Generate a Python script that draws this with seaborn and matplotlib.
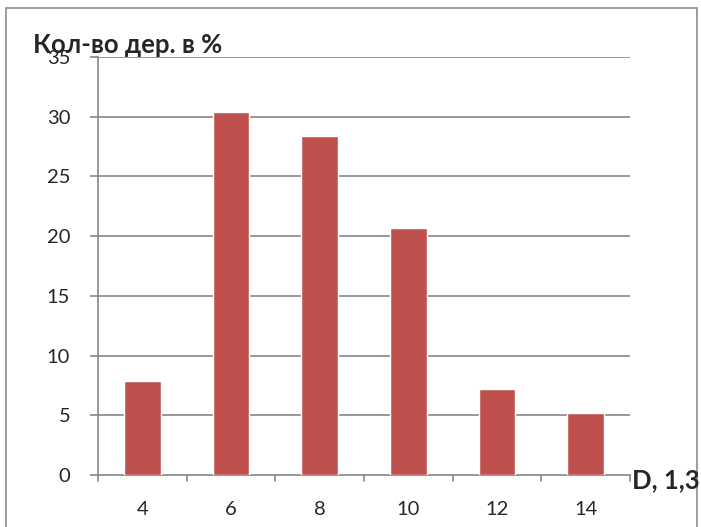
import matplotlib
matplotlib.use("Agg")
import matplotlib.pyplot as plt
import seaborn as sns
import pandas as pd
from matplotlib.patches import Rectangle

# Diameter classes (cm) and share of trees (%)
diameters = ["4", "6", "8", "10", "12", "14"]
share = [7.9, 30.4, 28.4, 20.7, 7.2, 5.2]
y_ticks = [0, 5, 10, 15, 20, 25, 30, 35]

df = pd.DataFrame({"D": diameters, "share": share})

sns.set_theme(style="white")
plt.rcParams["font.family"] = ["Lato", "DejaVu Sans"]

fig = plt.figure(figsize=(7.01, 5.27), dpi=100)
W, H = 701, 527
ax = fig.add_axes([98 / W, 1 - 475 / H, (630 - 98) / W, (475 - 57) / H])

sns.barplot(data=df, x="D", y="share", color="#C0504D", saturation=1,
            width=0.41, ax=ax, zorder=3)

grid_c = "#868686"
ax.set_ylim(0, 35)
ax.set_xlim(-0.5, len(diameters) - 0.5)
ax.set_yticks(y_ticks)
ax.set_yticklabels([str(v) for v in y_ticks], fontsize=14.5)
for v in y_ticks[1:]:
    ax.axhline(v, color=grid_c, lw=1.2, zorder=1)

# category boundary ticks on the x axis
ax.set_xticks(range(len(diameters)))
ax.set_xticklabels(diameters, fontsize=14.5)
ax.tick_params(axis="x", length=0, pad=19)
for b in [i + 0.5 for i in range(len(diameters) - 1)] + [-0.5, len(diameters) - 0.5]:
    ax.plot([b, b], [0, -0.5], color=grid_c, lw=1.2, clip_on=False,
            transform=ax.transData)
ax.tick_params(axis="y", length=6, width=1.2, color=grid_c, pad=14, left=True)

for s in ["top", "right"]:
    ax.spines[s].set_visible(False)
for s in ["left", "bottom"]:
    ax.spines[s].set_color(grid_c)
    ax.spines[s].set_linewidth(1.2)
ax.set_xlabel("")
ax.set_ylabel("")

fig.text(33 / W, 1 - 53 / H, "Кол-во дер. в %", fontsize=18.5, fontweight="bold",
         ha="left", va="baseline")
fig.text(632 / W, 1 - 488 / H, "D, 1,3", fontsize=18.5, fontweight="bold",
         ha="left", va="baseline")

# chart-area frame
fig.patches.append(Rectangle((6 / W, -0.05), (697 - 6) / W, 1 - 8 / H + 0.05,
                             transform=fig.transFigure, fill=False,
                             edgecolor="#8c8c8c", lw=1.2))

fig.savefig("out.png", dpi=100)
